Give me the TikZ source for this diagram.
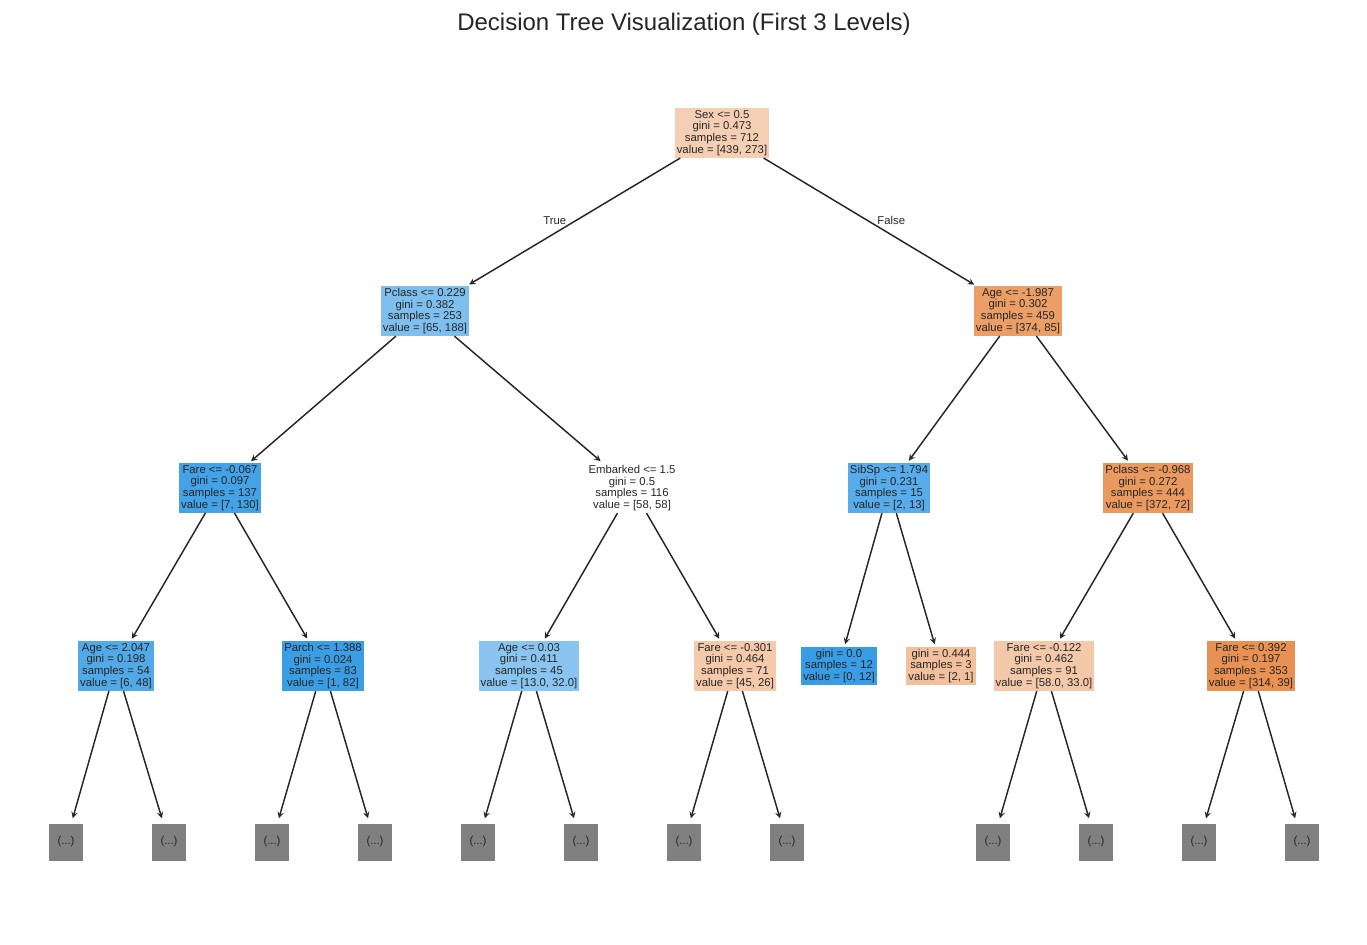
\documentclass[tikz,border=0pt]{standalone}
\usepackage{fontspec}
\setmainfont{Liberation Sans}
\usepackage{tikz}
\usetikzlibrary{arrows}
\definecolor{ink}{RGB}{38,38,38}
\definecolor{c0}{RGB}{245,207,180}
\definecolor{c1}{RGB}{126,191,238}
\definecolor{c2}{RGB}{235,158,102}
\definecolor{c3}{RGB}{68,162,230}
\definecolor{c4}{RGB}{88,172,233}
\definecolor{c5}{RGB}{234,153,95}
\definecolor{c6}{RGB}{82,169,232}
\definecolor{c7}{RGB}{59,158,229}
\definecolor{c8}{RGB}{137,197,240}
\definecolor{c9}{RGB}{244,202,171}
\definecolor{c10}{RGB}{57,157,229}
\definecolor{c11}{RGB}{242,192,156}
\definecolor{c12}{RGB}{244,201,170}
\definecolor{c13}{RGB}{232,145,82}
\tikzstyle{split} = [rectangle, align=center, text=ink, inner xsep=1.5pt, inner ysep=1.5pt, font=\fontsize{8.5}{8.8}\selectfont]
\tikzstyle{stub} = [rectangle, fill=gray, text=ink, minimum width=25.5pt, minimum height=27.75pt, inner sep=0pt, outer sep=2pt, font=\fontsize{8.5}{8.8}\selectfont]
\tikzstyle{lbl} = [text=ink, inner sep=2pt, font=\fontsize{8.5}{8.8}\selectfont]
\tikzstyle{arrow} = [line width=1.1pt, draw=ink, ->, >=stealth, shorten >=2pt]
\begin{document}
\begin{tikzpicture}[x=0.75pt, y=-0.75pt]
\useasboundingbox (0,0) rectangle (1367,945);
\node [text=ink, font=\fontsize{18}{20}\selectfont] (title) at (684,24) {Decision Tree Visualization (First 3 Levels)};

\node [split, fill=c0] (a) at (722,133) {Sex <= 0.5\\gini = 0.473\\samples = 712\\value = [439, 273]};

\node [split, fill=c1] (b) at (425,311) {Pclass <= 0.229\\gini = 0.382\\samples = 253\\value = [65, 188]};
\node [split, fill=c2] (c) at (1018,311) {Age <= -1.987\\gini = 0.302\\samples = 459\\value = [374, 85]};

\node [split, fill=c3] (bb) at (220,488) {Fare <= -0.067\\gini = 0.097\\samples = 137\\value = [7, 130]};
\node [split] (bc) at (632,488) {Embarked <= 1.5\\gini = 0.5\\samples = 116\\value = [58, 58]};
\node [split, fill=c4] (cb) at (889,488) {SibSp <= 1.794\\gini = 0.231\\samples = 15\\value = [2, 13]};
\node [split, fill=c5] (cc) at (1148,488) {Pclass <= -0.968\\gini = 0.272\\samples = 444\\value = [372, 72]};

\node [split, fill=c6] (bbb) at (116,666) {Age <= 2.047\\gini = 0.198\\samples = 54\\value = [6, 48]};
\node [split, fill=c7] (bbc) at (323,666) {Parch <= 1.388\\gini = 0.024\\samples = 83\\value = [1, 82]};
\node [split, fill=c8] (bcb) at (529,666) {Age <= 0.03\\gini = 0.411\\samples = 45\\value = [13.0, 32.0]};
\node [split, fill=c9] (bcc) at (735,666) {Fare <= -0.301\\gini = 0.464\\samples = 71\\value = [45, 26]};
\node [split, fill=c10] (cbb) at (839,666) {gini = 0.0\\samples = 12\\value = [0, 12]};
\node [split, fill=c11] (cbc) at (941,666) {gini = 0.444\\samples = 3\\value = [2, 1]};
\node [split, fill=c12] (ccb) at (1044,666) {Fare <= -0.122\\gini = 0.462\\samples = 91\\value = [58.0, 33.0]};
\node [split, fill=c13] (ccc) at (1251,666) {Fare <= 0.392\\gini = 0.197\\samples = 353\\value = [314, 39]};

% cut-off subtrees
\node [stub] (s1) at (66,842) {(...)};
\node [stub] (s2) at (169,842) {(...)};
\node [stub] (s3) at (272,842) {(...)};
\node [stub] (s4) at (375,842) {(...)};
\node [stub] (s5) at (478,842) {(...)};
\node [stub] (s6) at (581,842) {(...)};
\node [stub] (s7) at (684,842) {(...)};
\node [stub] (s8) at (787,842) {(...)};
\node [stub] (s9) at (993,842) {(...)};
\node [stub] (s10) at (1096,842) {(...)};
\node [stub] (s11) at (1199,842) {(...)};
\node [stub] (s12) at (1302,842) {(...)};

\draw [arrow] (a) to node [lbl, left, xshift=-3pt, yshift=1pt] {True} (b);
\draw [arrow] (a) to node [lbl, right, xshift=3pt, yshift=1pt] {False} (c);
\draw [arrow] (b) to (bb);
\draw [arrow] (b) to (bc);
\draw [arrow] (c) to (cb);
\draw [arrow] (c) to (cc);
\draw [arrow] (bb) to (bbb);
\draw [arrow] (bb) to (bbc);
\draw [arrow] (bc) to (bcb);
\draw [arrow] (bc) to (bcc);
\draw [arrow] (cb) to (cbb);
\draw [arrow] (cb) to (cbc);
\draw [arrow] (cc) to (ccb);
\draw [arrow] (cc) to (ccc);
\draw [arrow] (bbb) to (s1);
\draw [arrow] (bbb) to (s2);
\draw [arrow] (bbc) to (s3);
\draw [arrow] (bbc) to (s4);
\draw [arrow] (bcb) to (s5);
\draw [arrow] (bcb) to (s6);
\draw [arrow] (bcc) to (s7);
\draw [arrow] (bcc) to (s8);
\draw [arrow] (ccb) to (s9);
\draw [arrow] (ccb) to (s10);
\draw [arrow] (ccc) to (s11);
\draw [arrow] (ccc) to (s12);
\end{tikzpicture}
\end{document}
